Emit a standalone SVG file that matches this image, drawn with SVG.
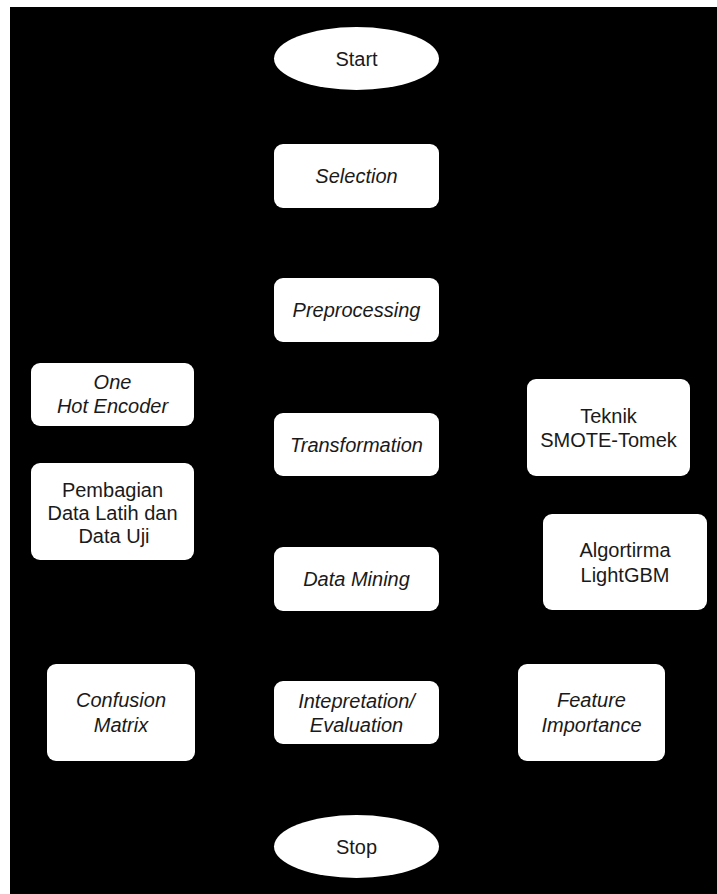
<svg xmlns="http://www.w3.org/2000/svg" width="717" height="894" viewBox="0 0 717 894">
<style>
.box{fill:#ffffff;stroke:none}
.t{font-family:"Liberation Sans",Arial,sans-serif;font-size:20px;fill:#1a1a1a;text-anchor:middle}
.i{font-style:italic}
</style>
<rect x="0" y="0" width="717" height="894" fill="#ffffff"/>
<rect x="10" y="7" width="707" height="887" fill="#000000"/>
<g id="connectors"></g>
<g id="start"><ellipse class="box" cx="356.5" cy="58.5" rx="82.5" ry="31.5"/><text class="t" x="356.5" y="65.5">Start</text></g>
<g id="selection"><rect class="box" x="274" y="144" width="165" height="64" rx="9"/><text class="t i" x="356.5" y="183">Selection</text></g>
<g id="preprocessing"><rect class="box" x="274" y="278" width="165" height="64" rx="9"/><text class="t i" x="356.5" y="317">Preprocessing</text></g>
<g id="transformation"><rect class="box" x="274" y="413" width="165" height="63" rx="9"/><text class="t i" x="356.5" y="451.5">Transformation</text></g>
<g id="datamining"><rect class="box" x="274" y="547" width="165" height="64" rx="9"/><text class="t i" x="356.5" y="586">Data Mining</text></g>
<g id="interpretation"><rect class="box" x="274" y="681" width="165" height="63" rx="9"/><text class="t i" x="356.5" y="708">Intepretation/</text><text class="t i" x="356.5" y="732">Evaluation</text></g>
<g id="stop"><ellipse class="box" cx="356.5" cy="846.5" rx="82.5" ry="31.5"/><text class="t" x="356.5" y="853.5">Stop</text></g>
<g id="onehot"><rect class="box" x="31" y="363" width="163" height="63" rx="9"/><text class="t i" x="112.5" y="389">One</text><text class="t i" x="112.5" y="413">Hot Encoder</text></g>
<g id="pembagian"><rect class="box" x="31" y="463" width="163" height="97" rx="9"/><text class="t" x="112.5" y="497">Pembagian</text><text class="t" x="112.5" y="520">Data Latih dan</text><text class="t" x="114" y="543">Data Uji</text></g>
<g id="smote"><rect class="box" x="527" y="379" width="163" height="97" rx="9"/><text class="t" x="608.5" y="423">Teknik</text><text class="t" x="608.5" y="447">SMOTE-Tomek</text></g>
<g id="lightgbm"><rect class="box" x="543" y="514" width="164" height="96" rx="9"/><text class="t" x="625" y="557">Algortirma</text><text class="t" x="625" y="582">LightGBM</text></g>
<g id="confusion"><rect class="box" x="47" y="664" width="148" height="97" rx="9"/><text class="t i" x="121" y="707">Confusion</text><text class="t i" x="121" y="732">Matrix</text></g>
<g id="feature"><rect class="box" x="518" y="664" width="147" height="97" rx="9"/><text class="t i" x="591.5" y="707">Feature</text><text class="t i" x="591.5" y="732">Importance</text></g>
</svg>
